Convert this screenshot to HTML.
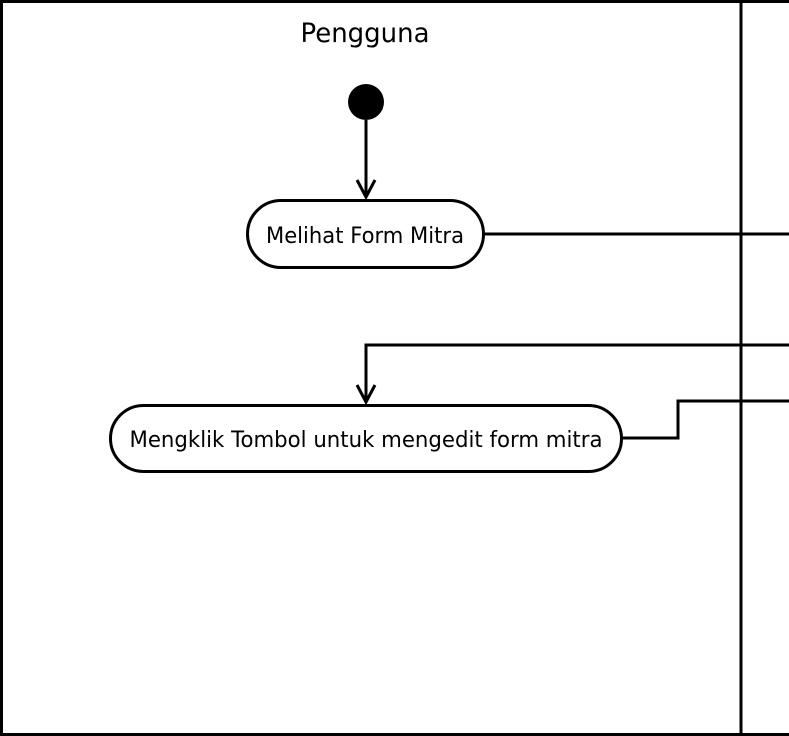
<!DOCTYPE html>
<html><head><style>html,body{margin:0;padding:0;background:#fff;}svg{display:block}</style></head>
<body>
<svg width="789" height="736" viewBox="0 0 789 736" xmlns="http://www.w3.org/2000/svg">
<rect x="1.5" y="1.5" width="800" height="733" fill="#fff" stroke="#000" stroke-width="3"/>
<line x1="741" y1="0" x2="741" y2="736" stroke="#000" stroke-width="3"/>
<text x="365" y="42" font-family="DejaVu Sans, Liberation Sans, sans-serif" font-size="27" text-anchor="middle" textLength="129" lengthAdjust="spacingAndGlyphs">Pengguna</text>
<circle cx="366" cy="102" r="18" fill="#000"/>
<line x1="366" y1="120" x2="366" y2="197" stroke="#000" stroke-width="3"/>
<polyline points="357,180 366,197 375,180" fill="none" stroke="#000" stroke-width="3"/>
<rect x="247.5" y="200.5" width="236" height="67" rx="33.5" fill="#fff" stroke="#000" stroke-width="3"/>
<text x="365" y="243" font-family="DejaVu Sans, Liberation Sans, sans-serif" font-size="22.5" text-anchor="middle" textLength="198" lengthAdjust="spacingAndGlyphs">Melihat Form Mitra</text>
<line x1="484" y1="234" x2="789" y2="234" stroke="#000" stroke-width="3"/>
<polyline points="789,345 366,345 366,402" fill="none" stroke="#000" stroke-width="3"/>
<polyline points="357,385 366,402 375,385" fill="none" stroke="#000" stroke-width="3"/>
<rect x="110.5" y="405.5" width="511" height="66" rx="33" fill="#fff" stroke="#000" stroke-width="3"/>
<text x="366" y="447" font-family="DejaVu Sans, Liberation Sans, sans-serif" font-size="22.5" text-anchor="middle" textLength="473" lengthAdjust="spacingAndGlyphs">Mengklik Tombol untuk mengedit form mitra</text>
<polyline points="622,438 678,438 678,401 789,401" fill="none" stroke="#000" stroke-width="3"/>
</svg>
</body></html>
